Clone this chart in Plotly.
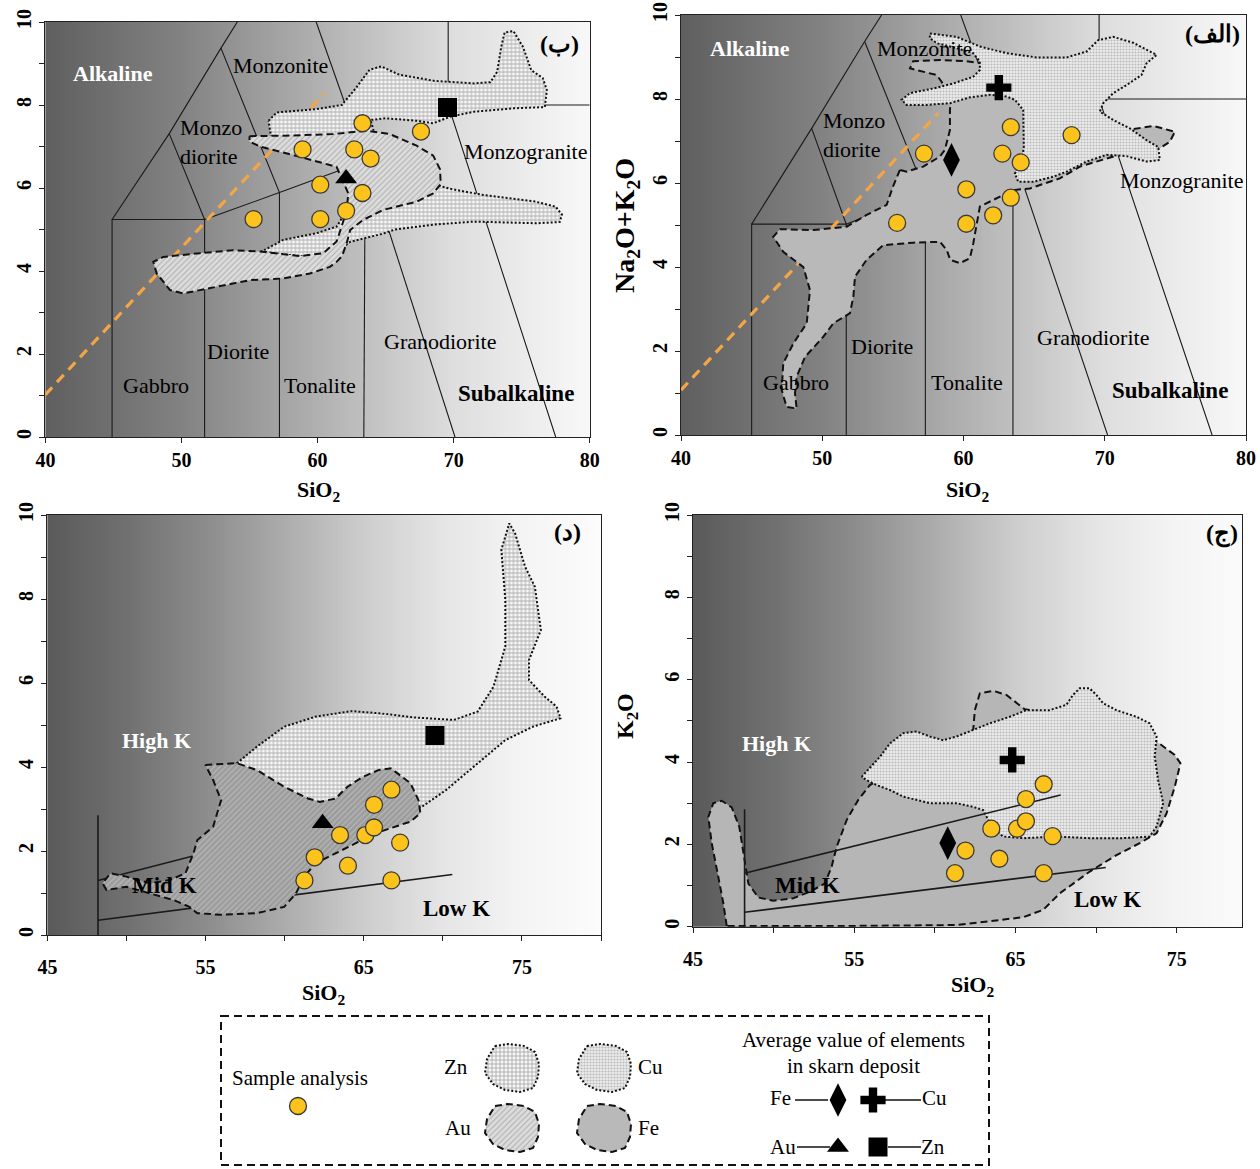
import numpy as np
import plotly.graph_objects as go

W, H = 1260, 1169
SERIF = "Liberation Serif"

# ---------------- data ----------------
# sample analyses, TAS diagrams
TL_SIO2 = [55.3, 58.9, 60.2, 60.2, 62.1, 62.7, 63.3, 63.3, 63.9, 67.6]
TL_ALK = [5.25, 6.93, 6.08, 5.25, 5.45, 6.93, 7.56, 5.88, 6.71, 7.36]
TR_SIO2 = [55.3, 57.2, 60.2, 60.2, 62.1, 62.75, 63.35, 63.35, 64.05, 67.65]
TR_ALK = [5.05, 6.7, 5.85, 5.03, 5.23, 6.7, 7.33, 5.65, 6.49, 7.14]
# sample analyses, K2O diagrams
K_SIO2 = [61.25, 61.9, 63.5, 64.0, 65.1, 65.65, 65.65, 66.75, 67.3, 66.75]
K_K2O = [1.3, 1.85, 2.38, 1.65, 2.38, 2.56, 3.1, 1.3, 2.2, 3.46]

# average values of elements in skarn deposits  (SiO2, y)
TL_AVG = {"Au": (62.1, 6.23), "Zn": (69.55, 7.94)}
TR_AVG = {"Fe": (59.15, 6.55), "Cu": (62.5, 8.27)}
BL_AVG = {"Au": (62.4, 2.66), "Zn": (69.5, 4.75)}
BR_AVG = {"Fe": (60.8, 2.03), "Cu": (64.8, 4.05)}

# deposit fields (outlines)
TL_ZN = [(56.4, 7.62), (57.0, 7.82), (59.9, 7.9), (61.78, 8.0), (62.8, 8.4), (63.82, 8.85), (64.69, 8.93),
         (66.0, 8.73), (68.6, 8.58), (71.5, 8.52), (72.7, 8.55), (73.2, 8.8), (73.5, 9.4), (73.75, 9.75),
         (74.4, 9.78), (75.1, 9.4), (75.7, 8.84), (76.55, 8.65), (76.85, 8.36), (76.7, 7.95), (74.42, 7.92),
         (71.51, 7.84), (69.77, 7.72), (68.5, 7.56), (67.3, 7.62), (65.0, 7.68), (63.9, 7.64), (64.6, 6.8),
         (66.5, 6.2), (68.9, 6.06), (69.75, 5.98), (72.2, 5.83), (75.9, 5.68), (77.5, 5.55), (77.96, 5.36),
         (77.8, 5.18), (76.1, 5.15), (74.4, 5.17), (71.5, 5.19), (68.6, 5.12), (65.7, 5.0), (64.8, 4.9),
         (62.38, 4.7), (61.4, 4.45), (59.44, 4.34), (57.48, 4.4), (55.9, 4.47), (57.48, 4.75), (59.93, 4.91),
         (61.4, 5.07), (62.6, 5.7), (63.0, 6.6), (62.0, 7.2), (58.0, 7.2), (56.6, 7.2)]
TL_AU = [(55.0, 7.25), (57.5, 7.26), (61.15, 7.3), (63.6, 7.38), (65.3, 7.3), (67.28, 7.02), (68.5, 6.78),
         (69.0, 6.45), (69.05, 6.1), (68.5, 5.87), (67.28, 5.67), (64.8, 5.47), (63.35, 5.23), (62.4, 4.99),
         (62.14, 4.67), (61.8, 4.36), (61.4, 4.22), (60.9, 4.1), (59.44, 3.94), (57.48, 3.82), (55.03, 3.78),
         (52.58, 3.62), (50.13, 3.46), (49.16, 3.54), (48.18, 3.94), (47.93, 4.22), (48.67, 4.34),
         (51.36, 4.43), (53.8, 4.5), (55.77, 4.47), (58.7, 4.36), (60.42, 4.43), (61.4, 4.71), (61.77, 5.07),
         (62.14, 5.47), (62.26, 5.87), (61.4, 6.51), (58.7, 6.75), (55.77, 7.0), (55.0, 7.12)]
TR_FE = [(55.5, 6.31), (55.0, 5.91), (54.56, 5.48), (53.14, 5.24), (51.73, 4.96), (49.37, 4.88), (47.0, 4.9),
         (46.53, 4.72), (47.24, 4.36), (48.66, 4.0), (49.13, 3.45), (48.9, 2.66), (47.96, 2.18), (47.24, 1.71),
         (47.13, 1.07), (47.48, 0.67), (48.19, 0.63), (48.07, 0.99), (48.19, 1.39), (48.78, 1.86),
         (50.08, 2.34), (50.79, 2.66), (51.96, 2.9), (52.2, 3.29), (52.32, 3.77), (53.14, 4.17), (54.32, 4.52),
         (56.45, 4.58), (58.35, 4.6), (58.82, 4.4), (59.06, 4.17), (59.75, 4.09), (60.45, 4.21), (60.69, 4.56),
         (61.16, 5.44), (62.1, 5.6), (63.52, 5.83), (64.7, 5.87), (66.82, 6.11), (68.24, 6.39), (70.6, 6.63),
         (71.3, 6.95), (71.55, 7.26), (73.43, 7.36), (74.97, 7.22), (74.6, 6.98), (73.9, 6.83), (72.48, 6.75),
         (71.5, 7.0), (68.0, 7.6), (64.0, 8.3), (61.3, 8.85), (60.22, 8.9), (58.33, 8.93), (56.44, 8.9),
         (56.21, 8.73), (58.1, 8.57), (58.45, 8.41), (59.1, 8.0), (59.04, 7.74), (59.04, 7.26), (58.68, 6.79),
         (58.33, 6.63), (57.15, 6.39), (55.97, 6.27)]
TR_CU = [(57.62, 9.56), (59.51, 9.48), (61.16, 9.25), (63.05, 9.09), (65.17, 8.99), (67.3, 8.99), (68.71, 9.13),
         (69.53, 9.4), (70.6, 9.48), (72.01, 9.34), (73.67, 9.05), (72.96, 8.85), (72.6, 8.57), (71.54, 8.33),
         (70.6, 8.14), (69.89, 7.9), (69.65, 7.7), (70.6, 7.5), (71.78, 7.3), (72.96, 7.02), (73.78, 6.86),
         (73.9, 6.55), (72.96, 6.51), (71.54, 6.64), (70.13, 6.67), (68.71, 6.51), (67.3, 6.27), (66.35, 6.15),
         (64.93, 6.03), (63.87, 6.03), (63.64, 6.23), (64.11, 6.47), (64.27, 6.86), (64.23, 7.34), (64.23, 7.74),
         (63.64, 7.98), (63.05, 8.06), (61.87, 8.1), (60.45, 8.04), (59.04, 7.9), (57.39, 7.86), (55.97, 7.86),
         (55.62, 7.98), (56.21, 8.14), (57.86, 8.25), (59.27, 8.37), (60.69, 8.53), (61.16, 8.69), (61.16, 8.89),
         (60.69, 9.09), (59.51, 9.21), (58.1, 9.33), (57.62, 9.45)]
BL_ZN = [(56.98, 4.09), (58.23, 4.48), (59.97, 4.96), (61.97, 5.2), (64.22, 5.33), (65.96, 5.28), (68.21, 5.18),
         (70.7, 5.12), (72.2, 5.32), (73.2, 5.91), (73.95, 6.87), (73.95, 7.98), (73.7, 9.17), (74.2, 9.8),
         (74.57, 9.56), (75.2, 8.77), (75.82, 8.29), (76.2, 7.26), (75.45, 6.55), (75.45, 6.07), (76.45, 5.67),
         (77.19, 5.44), (77.44, 5.16), (75.7, 4.96), (73.95, 4.64), (71.95, 4.01), (70.2, 3.45), (68.7, 3.06),
         (68.2, 3.0), (66.0, 3.2), (62.5, 2.8), (58.0, 3.2), (56.5, 3.9)]
BL_AU = [(54.98, 4.05), (56.98, 4.09), (58.23, 3.93), (59.97, 3.53), (61.47, 3.25), (62.22, 3.17), (63.22, 3.25),
         (63.97, 3.53), (64.97, 3.77), (65.96, 3.93), (66.71, 3.97), (67.96, 3.61), (68.46, 3.21), (68.58, 2.9),
         (67.96, 2.7), (66.96, 2.58), (65.71, 2.42), (64.47, 2.18), (63.22, 1.94), (61.97, 1.71), (61.22, 1.39),
         (60.72, 0.99), (59.97, 0.67), (58.23, 0.52), (55.98, 0.48), (54.48, 0.52), (53.98, 0.67), (52.99, 0.83),
         (51.49, 0.99), (49.99, 1.15), (48.74, 1.07), (48.49, 1.23), (48.99, 1.47), (49.99, 1.39), (51.49, 1.23),
         (52.74, 1.31), (53.73, 1.47), (54.23, 1.94), (54.48, 2.26), (55.48, 2.58), (55.98, 3.21), (55.48, 3.69)]
BR_FE = [(47.09, 0.02), (46.88, 0.57), (46.57, 1.21), (46.16, 2.03), (45.95, 2.67), (46.26, 3.0), (46.78, 3.06),
         (47.4, 2.9), (47.87, 2.43), (48.18, 1.7), (48.43, 1.05), (49.05, 0.71), (49.98, 0.63), (51.22, 0.69),
         (52.25, 0.85), (53.18, 1.05), (53.6, 1.46), (53.91, 1.94), (54.53, 2.59), (55.25, 3.08), (55.97, 3.44),
         (56.7, 3.6), (59.28, 3.81), (62.38, 4.78), (62.48, 5.26), (62.79, 5.67), (63.62, 5.73), (64.44, 5.63),
         (65.07, 5.43), (65.58, 5.28), (69.61, 5.02), (73.75, 4.5), (74.88, 4.17), (75.23, 3.97), (74.88, 3.4),
         (74.37, 2.75), (73.75, 2.27), (72.71, 2.03), (71.27, 1.74), (69.61, 1.34), (67.75, 0.81), (66.72, 0.41),
         (65.48, 0.23), (61.35, 0.04), (55.15, 0.02), (48.95, 0.02)]
BR_CU = [(55.46, 3.64), (55.97, 3.85), (56.6, 4.13), (57.21, 4.45), (58.04, 4.7), (58.87, 4.74), (59.69, 4.62),
         (60.52, 4.53), (61.35, 4.62), (62.38, 4.78), (63.41, 4.94), (64.65, 5.1), (65.69, 5.26), (67.12, 5.26),
         (68.16, 5.39), (68.57, 5.63), (68.98, 5.79), (69.6, 5.79), (70.02, 5.63), (70.43, 5.43), (71.26, 5.26),
         (72.5, 5.1), (73.32, 4.94), (73.75, 4.62), (73.64, 4.13), (73.85, 3.56), (74.16, 3.0), (73.75, 2.43),
         (73.32, 2.19), (71.68, 2.15), (69.6, 2.15), (67.55, 2.19), (65.48, 2.15), (64.24, 2.19), (63.62, 2.39),
         (63.21, 2.67), (63.0, 2.83), (62.38, 2.91), (61.35, 3.0), (59.69, 3.0), (58.87, 3.08), (58.04, 3.16),
         (57.21, 3.32), (56.39, 3.44), (55.77, 3.56)]

# classification boundaries
TL_FIELDS = [[(44.9, 0), (44.9, 5.24), (51.7, 5.24), (51.7, 0)],
             [(44.9, 5.24), (49.1, 7.31), (52.9, 9.37), (54.1, 10)],
             [(49.1, 7.31), (51.7, 5.24), (57.2, 5.89), (63.5, 6.65)],
             [(57.2, 0), (57.2, 5.89), (52.9, 9.37)],
             [(63.4, 0), (63.5, 6.65)],
             [(59.9, 10), (63.5, 6.65)],
             [(70.1, 0), (63.6, 6.65)],
             [(77.5, 0), (69.6, 8), (69.6, 10)],
             [(69.6, 8), (80, 8)]]
TR_FIELDS = [[(45, 0), (45, 5.02), (51.7, 5.02), (51.7, 0)],
             [(45, 5.02), (49.25, 7.3), (53, 9.37), (54.2, 10)],
             [(49.25, 7.3), (51.7, 5.02), (57.3, 5.78), (63.5, 6.6)],
             [(57.3, 0), (57.3, 5.78), (53, 9.37)],
             [(63.5, 0), (63.5, 6.6)],
             [(59.8, 10), (63.5, 6.6)],
             [(70.2, 0), (63.6, 6.6)],
             [(77.6, 0), (69.6, 8), (69.6, 10)],
             [(69.6, 8), (80, 8)]]
K_FIELDS = [[(48.2, 0), (48.2, 2.85)],
            [(48.2, 0.35), (70.6, 1.44)],
            [(48.2, 1.3), (67.8, 3.2)]]
TL_ORANGE = [(40, 1.02), (60.5, 8.28)]
TR_ORANGE = [(40, 1.07), (58.2, 7.66)]

TL_LABELS = [("Alkaline", 44.97, 8.77, "w"), ("Monzonite", 57.3, 8.96, "n"), ("Monzo<br>diorite", 52.2, 7.1, "n"),
             ("Monzogranite", 75.26, 6.89, "n"), ("Diorite", 54.15, 2.07, "n"), ("Gabbro", 48.12, 1.25, "n"),
             ("Tonalite", 60.18, 1.25, "n"), ("Granodiorite", 69.0, 2.29, "n"), ("Subalkaline", 74.6, 1.04, "b"),
             ("(ب)", 77.8, 9.47, "p")]
TR_LABELS = [("Alkaline", 44.88, 9.21, "w"), ("Monzonite", 57.27, 9.21, "n"), ("Monzo<br>diorite", 52.24, 7.14, "n"),
             ("Monzogranite", 75.4, 6.07, "n"), ("Diorite", 54.22, 2.1, "n"), ("Gabbro", 48.14, 1.26, "n"),
             ("Tonalite", 60.24, 1.26, "n"), ("Granodiorite", 69.16, 2.31, "n"), ("Subalkaline", 74.6, 1.05, "b"),
             ("(الف)", 77.65, 9.55, "p")]
BL_LABELS = [("High K", 51.92, 4.62, "w"), ("Mid K", 52.42, 1.17, "b"), ("Low K", 70.86, 0.64, "b"),
             ("(د)", 77.9, 9.6, "p")]
BR_LABELS = [("High K", 50.2, 4.44, "w"), ("Mid K", 52.13, 0.99, "b"), ("Low K", 70.73, 0.65, "b"),
             ("(ج)", 77.8, 9.53, "p")]

# ---------------- styles ----------------
YELLOW = "#FBC31C"
ZN = dict(bg="#f6f6f6", pat=dict(shape="+", size=4, solidity=0.4, fgcolor="#5f5f5f", bgcolor="#f6f6f6"), dash="2px,2px")
CU = dict(bg="#ececec", pat=dict(shape=".", size=3, solidity=0.4, fgcolor="#858585", bgcolor="#ececec"), dash="2px,2px")
AU_L = dict(bg="#dcdcdc", pat=dict(shape="/", size=4, solidity=0.25, fgcolor="#808080", bgcolor="#dcdcdc"), dash="7px,4px")
AU_D = dict(bg="#9c9c9c", pat=dict(shape="/", size=4, solidity=0.3, fgcolor="#d2d2d2", bgcolor="#9c9c9c"), dash="7px,4px")
FE = dict(bg="#b9b9b9", pat=None, dash="7px,4px")

PANELS = {
    "tl": dict(n="", px=(45.4, 589.7), py=(437, 22), xr=(40, 80), bg=(40, 80), sto=0,
               stops=[(40, 95), (50, 130), (60, 176), (70, 222), (80, 248)]),
    "tr": dict(n="2", px=(681, 1246), py=(435, 15), xr=(40, 80), bg=(40, 80), sto=0,
               stops=[(40, 95), (50, 130), (60, 176), (70, 222), (80, 248)]),
    "bl": dict(n="3", px=(47.4, 601), py=(935, 515), xr=(45, 80), bg=(45, 80), sto=9,
               stops=[(45, 90), (50, 112), (55, 140), (60, 172), (65, 205), (70, 229), (75, 244), (80, 252)]),
    "br": dict(n="4", px=(693, 1242), py=(926.7, 515), xr=(45, 79.05), bg=(45, 80), sto=9,
               stops=[(45, 90), (50, 112), (55, 140), (60, 172), (65, 205), (70, 229), (75, 244), (80, 252)]),
}

fig = go.Figure()


def ax(p):
    return dict(xaxis="x" + p["n"], yaxis="y" + p["n"])


def add_bg(p):
    a, b = p["bg"]
    xs = np.linspace(a, b, 141)
    cs = [[(v - a) / (b - a), f"rgb({g},{g},{g})"] for v, g in p["stops"]]
    fig.add_trace(go.Heatmap(x=xs, y=[0, 10], z=[xs, xs], colorscale=cs, zmin=a, zmax=b,
                             showscale=False, hoverinfo="skip", **ax(p)))


def add_lines(p, segs, color="#1a1a1a", width=1.1):
    for seg in segs:
        fig.add_trace(go.Scatter(x=[q[0] for q in seg], y=[q[1] for q in seg], mode="lines",
                                 line=dict(color=color, width=width), hoverinfo="skip", showlegend=False, **ax(p)))


def add_orange(p, seg):
    fig.add_trace(go.Scatter(x=[q[0] for q in seg], y=[q[1] for q in seg], mode="lines",
                             line=dict(color="#F4A646", width=3.2, dash="10px,7px"),
                             hoverinfo="skip", showlegend=False, **ax(p)))


def add_poly(axes, pts, st, lw=2.0):
    xs = [q[0] for q in pts] + [pts[0][0]]
    ys = [q[1] for q in pts] + [pts[0][1]]
    kw = dict(fillpattern=st["pat"]) if st["pat"] else {}
    fig.add_trace(go.Scatter(x=xs, y=ys, mode="lines", fill="toself", fillcolor=st["bg"],
                             line=dict(color="#111", width=lw, dash=st["dash"]),
                             hoverinfo="skip", showlegend=False, **kw, **axes))


def add_samples(axes, xs, ys, size=17):
    fig.add_trace(go.Scatter(x=xs, y=ys, mode="markers",
                             marker=dict(size=size, color=YELLOW, line=dict(color="#3a3a3a", width=1.3)),
                             hoverinfo="skip", showlegend=False, **axes))


SYM = {"Fe": ("diamond-tall", 24), "Cu": ("cross", 21), "Au": ("triangle-up", 19), "Zn": ("square", 19)}


def add_avg(axes, avg):
    for k, (x, y) in avg.items():
        s, sz = SYM[k]
        fig.add_trace(go.Scatter(x=[x], y=[y], mode="markers",
                                 marker=dict(symbol=s, size=sz, color="black", line=dict(width=0)),
                                 hoverinfo="skip", showlegend=False, **axes))


def add_labels(p, labels):
    for t, x, y, kind in labels:
        if kind == "w":
            txt, col, sz = "<b>" + t + "</b>", "white", 22
        elif kind == "b":
            txt, col, sz = "<b>" + t + "</b>", "black", 23
        elif kind == "p":
            txt, col, sz = "<b>" + t + "</b>", "black", 24
        else:
            txt, col, sz = t, "black", 22
        fig.add_annotation(x=x, y=y, xref="x" + p["n"], yref="y" + p["n"], text=txt, showarrow=False,
                           xanchor="center", yanchor="middle",
                           font=dict(family=SERIF, size=sz, color=col), align="left")


# --- top-left (ب)
P = PANELS["tl"]
add_bg(P)
add_lines(P, TL_FIELDS)
add_orange(P, TL_ORANGE)
add_poly(ax(P), TL_ZN, ZN)
add_poly(ax(P), TL_AU, AU_L)
add_samples(ax(P), TL_SIO2, TL_ALK)
add_avg(ax(P), TL_AVG)
add_labels(P, TL_LABELS)

# --- top-right (الف)
P = PANELS["tr"]
add_bg(P)
add_lines(P, TR_FIELDS)
add_orange(P, TR_ORANGE)
add_poly(ax(P), TR_FE, FE)
add_poly(ax(P), TR_CU, CU)
add_samples(ax(P), TR_SIO2, TR_ALK)
add_avg(ax(P), TR_AVG)
add_labels(P, TR_LABELS)

# --- bottom-left (د)
P = PANELS["bl"]
add_bg(P)
add_lines(P, K_FIELDS, width=1.6)
add_poly(ax(P), BL_ZN, ZN)
add_poly(ax(P), BL_AU, AU_D)
add_samples(ax(P), K_SIO2, K_K2O)
add_avg(ax(P), BL_AVG)
add_labels(P, BL_LABELS)

# --- bottom-right (ج)
P = PANELS["br"]
add_bg(P)
add_poly(ax(P), BR_FE, dict(FE, bg="#b6b6b6"))
add_poly(ax(P), BR_CU, CU)
add_lines(P, K_FIELDS, width=1.6)
add_samples(ax(P), K_SIO2, K_K2O)
add_avg(ax(P), BR_AVG)
add_labels(P, BR_LABELS)

# ---------------- axes ----------------
TICKFONT = dict(family=SERIF, size=20, color="black", weight="bold")
layout_axes = {}
for key, p in PANELS.items():
    n = p["n"]
    xd = [p["px"][0] / W, p["px"][1] / W]
    yd = [1 - p["py"][0] / H, 1 - p["py"][1] / H]
    common = dict(showgrid=False, zeroline=False, showline=True, mirror=True, linecolor="#222", linewidth=1,
                  ticks="outside", ticklen=5, tickcolor="#222", tickfont=TICKFONT, fixedrange=True,
                  automargin=False)
    if key in ("tl", "tr"):
        xa = dict(common, domain=xd, range=list(p["xr"]), tickvals=[40, 50, 60, 70, 80], anchor="y" + n)
    else:
        xa = dict(common, domain=xd, range=list(p["xr"]), tickvals=[45, 55, 65, 75], anchor="y" + n,
                  ticklabelstandoff=p["sto"],
                  minor=dict(tickvals=[50, 60, 70, 80], ticks="outside", ticklen=5, tickcolor="#222"))
    ya = dict(common, domain=yd, range=[0, 10], tickvals=[0, 2, 4, 6, 8, 10], tickangle=-90, anchor="x" + n,
              minor=dict(tickvals=[1, 3, 5, 7, 9], ticks="outside", ticklen=5, tickcolor="#222"))
    layout_axes["xaxis" + n] = xa
    layout_axes["yaxis" + n] = ya

# legend axes (pixel coordinates)
LX0, LX1, LY0, LY1 = 214, 996, 1010, 1169
layout_axes["xaxis5"] = dict(domain=[LX0 / W, LX1 / W], range=[LX0, LX1], visible=False, anchor="y5",
                             fixedrange=True, automargin=False)
layout_axes["yaxis5"] = dict(domain=[1 - LY1 / H, 1 - LY0 / H], range=[LY1, LY0], visible=False, anchor="x5",
                             fixedrange=True, automargin=False)

fig.update_layout(width=W, height=H, margin=dict(l=0, r=0, t=0, b=0, autoexpand=False), paper_bgcolor="white",
                  plot_bgcolor="white", showlegend=False, **layout_axes)


# axis titles
def paper_ann(text, px, py, size=22, angle=0):
    fig.add_annotation(x=px / W, y=1 - py / H, xref="paper", yref="paper", text=text, showarrow=False,
                       xanchor="center", yanchor="middle", textangle=angle,
                       font=dict(family=SERIF, size=size, color="black"))


paper_ann("<b>SiO<sub>2</sub></b>", 318, 491)
paper_ann("<b>SiO<sub>2</sub></b>", 967, 491)
paper_ann("<b>SiO<sub>2</sub></b>", 324, 994)
paper_ann("<b>SiO<sub>2</sub></b>", 972, 986)
paper_ann("<b>Na<sub>2</sub>O+K<sub>2</sub>O</b>", 626, 226, size=28, angle=-90)
paper_ann("<b>K<sub>2</sub>O</b>", 627, 716, size=24, angle=-90)

# ---------------- legend box ----------------
L5 = dict(xaxis="x5", yaxis="y5")
fig.add_shape(type="rect", xref="x5", yref="y5", x0=221, x1=989, y0=1016, y1=1165,
              line=dict(color="#111", width=2, dash="8px,5px"), fillcolor="rgba(0,0,0,0)")
BLOB = [(-17, -22), (-4, -24), (12, -22), (23, -16), (27, -4), (26, 9), (21, 20), (8, 24), (-7, 22),
        (-19, 16), (-27, 5), (-25, -9)]


def blob(cx, cy):
    return [(cx + dx, cy + dy) for dx, dy in BLOB]


add_poly(L5, blob(512, 1068), ZN)
add_poly(L5, blob(604, 1068), CU)
add_poly(L5, blob(512, 1128), AU_L)
add_poly(L5, blob(604, 1128), FE)
add_samples(L5, [298], [1106], size=17)
for seg in [[(795, 1100), (828, 1100)], [(885, 1100), (921, 1100)], [(797, 1147), (830, 1147)], [(888, 1147), (921, 1147)]]:
    fig.add_trace(go.Scatter(x=[q[0] for q in seg], y=[q[1] for q in seg], mode="lines",
                             line=dict(color="#111", width=1.5), hoverinfo="skip", showlegend=False, **L5))
add_avg(L5, {"Fe": (838, 1100), "Cu": (873, 1100), "Au": (838, 1147), "Zn": (878, 1147)})

for t, x, y in [("Sample analysis", 300, 1078), ("Zn", 456, 1067), ("Cu", 650, 1067), ("Au", 458, 1128),
                ("Fe", 648, 1128), ("Average value of elements", 853, 1040), ("in skarn deposit", 853, 1066),
                ("Fe", 780, 1098), ("Cu", 934, 1098), ("Au", 783, 1147), ("Zn", 933, 1147)]:
    fig.add_annotation(x=x, y=y, xref="x5", yref="y5", text=t, showarrow=False,
                       xanchor="center", yanchor="middle",
                       font=dict(family=SERIF, size=21, color="black"))

fig.write_html("out.html", config={"displayModeBar": False, "staticPlot": True},
               post_script="document.body.style.margin='0px';document.body.style.overflow='hidden';")
